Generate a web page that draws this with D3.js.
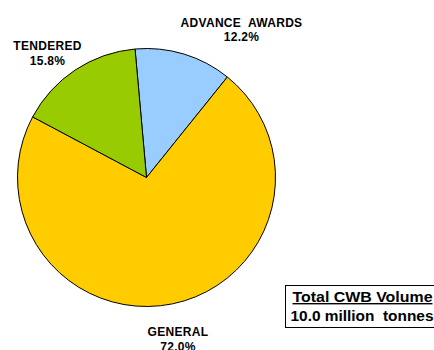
<!DOCTYPE html>
<html>
<head>
<meta charset="utf-8">
<script src="https://cdn.jsdelivr.net/npm/d3@7"></script>
<style>
  body { margin: 0; background: #fff; }
  text { font-family: "Liberation Sans", Arial, sans-serif; font-weight: bold; fill: #000; white-space: pre; }
</style>
</head>
<body>
<script>
// data
var categories = ["ADVANCE  AWARDS", "GENERAL", "TENDERED"];
var shares = [12.2, 72.0, 15.8];
var colors = ["#99ccff", "#ffcc00", "#99cc00"];
var totalLines = ["Total CWB Volume", "10.0 million  tonnes"];

var width = 434, height = 350;
var cx = 146.5, cy = 177.5, radius = 129;
var startDeg = -5.1;

var svg = d3.select("body").append("svg")
    .attr("width", width)
    .attr("height", height);

var pie = d3.pie()
    .sort(null)
    .startAngle(startDeg * Math.PI / 180)
    .endAngle((startDeg + 360) * Math.PI / 180);

var arc = d3.arc().innerRadius(0).outerRadius(radius);

var slices = pie(shares);

var g = svg.append("g")
    .attr("transform", "translate(" + cx + "," + cy + ")");

g.selectAll("path")
    .data(slices)
  .enter().append("path")
    .attr("d", arc)
    .attr("fill", function(d, i) { return colors[i]; })
    .attr("stroke", "#000")
    .attr("stroke-width", 1);

// label positions (centre x, first baseline)
var labelPos = [[241.5, 26.5], [178, 336], [47.5, 50]];

svg.selectAll(".lbl")
    .data(slices)
  .enter().append("text")
    .attr("class", "lbl")
    .attr("text-anchor", "middle")
    .attr("font-size", 12)
    .attr("letter-spacing", 0.3)
    .attr("y", function(d, i) { return labelPos[i][1]; })
    .each(function(d, i) {
      var t = d3.select(this);
      t.append("tspan")
        .attr("x", labelPos[i][0])
        .text(categories[i]);
      t.append("tspan")
        .attr("x", labelPos[i][0])
        .attr("dy", 14.5)
        .text(d.data.toFixed(1) + "%");
    });

// total volume box
var box = svg.append("g");
box.append("rect")
    .attr("x", 285.5)
    .attr("y", 285.5)
    .attr("width", 170)
    .attr("height", 42)
    .attr("fill", "#fff")
    .attr("stroke", "#000")
    .attr("stroke-width", 1);

box.append("text")
    .attr("x", 292.5)
    .attr("y", 302)
    .attr("font-size", 14)
    .attr("textLength", 140)
    .attr("lengthAdjust", "spacingAndGlyphs")
    .attr("text-decoration", "underline")
    .text(totalLines[0]);

box.append("text")
    .attr("x", 290.5)
    .attr("y", 320.5)
    .attr("font-size", 14)
    .attr("textLength", 143)
    .attr("lengthAdjust", "spacingAndGlyphs")
    .text(totalLines[1]);
</script>
</body>
</html>
